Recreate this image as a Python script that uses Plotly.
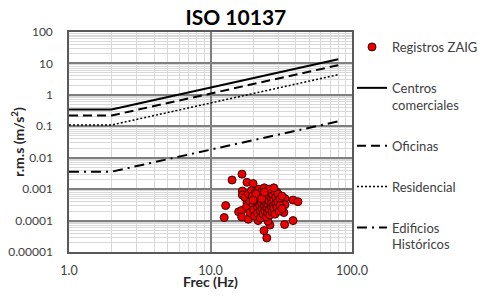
import plotly.graph_objects as go

# ISO 10137 curves (frequency in Hz, r.m.s acceleration in m/s2)
curve_freq = [1.0, 2.0, 80.0]
centros = [0.34, 0.34, 13.6]
oficinas = [0.22, 0.22, 8.8]
residencial = [0.11, 0.11, 4.4]
historicos = [0.0036, 0.0036, 0.144]

# Registros ZAIG (measured points)
reg_freq = [14.2, 16.7, 18.1, 20.0, 16.8, 16.8, 12.8, 12.5, 15.8, 16.6,
            16.6, 18.1, 18.5, 20.0, 20.5, 23.9, 25.0, 29.5, 33.6, 38.3,
            41.5, 33.6, 33.0, 38.3, 33.4, 26.3, 23.9, 25.0, 25.5, 21.7,
            17.5, 18.0, 18.5, 19.0, 19.0, 19.5, 19.8, 20.0, 20.2, 20.5,
            20.8, 21.0, 21.2, 21.5, 21.5, 21.8, 22.0, 22.0, 22.3, 22.5,
            22.5, 22.8, 23.0, 23.0, 23.2, 23.5, 23.5, 23.8, 24.0, 24.0,
            24.2, 24.5, 24.5, 24.8, 25.0, 25.0, 25.3, 25.5, 25.5, 25.8,
            26.0, 26.0, 26.3, 26.5, 26.8, 27.0, 27.0, 27.3, 27.5, 27.8,
            28.0, 28.0, 28.5, 28.5, 29.0, 29.0, 29.5, 30.0, 30.0, 30.5,
            31.0, 31.0, 32.0, 32.0, 21.0, 20.0, 23.0, 26.0, 24.0, 28.0]
reg_acc = [0.00195, 0.0030, 0.00165, 0.00150, 0.00087, 0.00065, 0.00030, 0.000125, 0.00019, 0.00021,
           0.00013, 0.00037, 0.00011, 0.00028, 0.00050, 0.00075, 0.00045, 0.00080, 0.00050, 0.00045,
           0.00040, 0.00032, 0.00018, 0.00010, 0.000075, 0.000072, 0.000048, 0.000028, 0.000095, 0.00010,
           0.00055, 0.00028, 0.00072, 0.00040, 0.00018, 0.00090, 0.00060, 0.00033, 0.00022, 0.00014,
           0.00080, 0.00048, 0.00038, 0.00026, 0.00017, 0.00065, 0.00100, 0.00055, 0.00030, 0.00020,
           0.00012, 0.00042, 0.00085, 0.00035, 0.00024, 0.00060, 0.00016, 0.00045, 0.00110, 0.00029,
           0.00021, 0.00070, 0.00038, 0.00013, 0.00052, 0.00025, 0.00018, 0.00090, 0.00033, 0.00062,
           0.00042, 0.00022, 0.00015, 0.00075, 0.00028, 0.00050, 0.00036, 0.00019, 0.00065, 0.00030,
           0.00045, 0.00024, 0.00085, 0.00016, 0.00055, 0.00035, 0.00026, 0.00070, 0.00040, 0.00020,
           0.00050, 0.00030, 0.00060, 0.00024, 0.00070, 0.00045, 0.00050, 0.00100, 0.00080, 0.00110]

y_tickvals = [100, 10, 1, 0.1, 0.01, 0.001, 0.0001, 0.00001]
y_ticktext = ["100", "10", "1", "0.1", "0.01", "0.001", "0.0001", "0.00001"]
x_tickvals = [1, 10, 100]
x_ticktext = ["1.0", "10.0", "100.0"]

FONT = "Lato"

fig = go.Figure()
fig.add_trace(go.Scatter(
    x=reg_freq, y=reg_acc, mode="markers", name="Registros ZAIG",
    legendgroup="a",
    marker=dict(color="#ee0000", size=8, line=dict(color="#3a0000", width=1)),
))
fig.add_trace(go.Scatter(
    x=curve_freq, y=centros, mode="lines", name="Centros<br>comerciales",
    legendgroup="b", line=dict(color="black", width=2),
))
fig.add_trace(go.Scatter(
    x=curve_freq, y=oficinas, mode="lines", name="Oficinas",
    legendgroup="c", line=dict(color="black", width=2, dash="9px,5px"),
))
fig.add_trace(go.Scatter(
    x=curve_freq, y=residencial, mode="lines", name="Residencial",
    legendgroup="d", line=dict(color="black", width=1.5, dash="2px,2px"),
))
fig.add_trace(go.Scatter(
    x=curve_freq, y=historicos, mode="lines", name="Edificios<br>Históricos",
    legendgroup="e", line=dict(color="black", width=2, dash="10px,5px,2px,5px"),
))

# the page adds an 8px body margin, so the figure is made smaller to avoid scrollbars
fig.update_layout(
    width=487, height=282,
    margin=dict(l=61, r=135, t=24, b=38),
    paper_bgcolor="white", plot_bgcolor="white",
    font=dict(family=FONT, size=13, color="#404040"),
    title=dict(text="<b>ISO 10137</b>", x=0.468, xanchor="center", y=0.966, yanchor="middle",
               font=dict(family=FONT, size=21, color="black")),
    legend=dict(x=1.0, xanchor="left", y=1.0, yanchor="top", valign="top",
                tracegroupgap=21, maxheight=270,
                font=dict(family=FONT, size=13, color="#404040"),
                bgcolor="rgba(0,0,0,0)"),
    showlegend=True,
)
fig.update_xaxes(
    type="log", range=[0, 2], automargin=False,
    tickvals=x_tickvals, ticktext=x_ticktext, tickfont=dict(size=12.5),
    showgrid=True, gridcolor="#7f7f7f", gridwidth=1.5,
    minor=dict(dtick="D1", showgrid=True, gridcolor="#d9d9d9", gridwidth=1),
    showline=True, linecolor="#595959", linewidth=1.5, mirror=True,
    ticks="", ticklabelstandoff=6,
    title=dict(text="<b>Frec (Hz)</b>", font=dict(family=FONT, size=14, color="#262626"), standoff=2),
    zeroline=False,
)
fig.update_yaxes(
    type="log", range=[-5, 2], automargin=False,
    tickvals=y_tickvals, ticktext=y_ticktext, tickfont=dict(size=12),
    showgrid=True, gridcolor="#7f7f7f", gridwidth=1.5,
    minor=dict(dtick="D1", showgrid=True, gridcolor="#d9d9d9", gridwidth=1),
    showline=True, linecolor="#595959", linewidth=1.5, mirror=True,
    ticks="", ticklabelstandoff=12,
    title=dict(text="<b>r.m.s (m/s<sup>2</sup>)</b>", font=dict(family=FONT, size=14, color="#262626"), standoff=2),
    zeroline=False,
)

fig.write_html("out.html")
